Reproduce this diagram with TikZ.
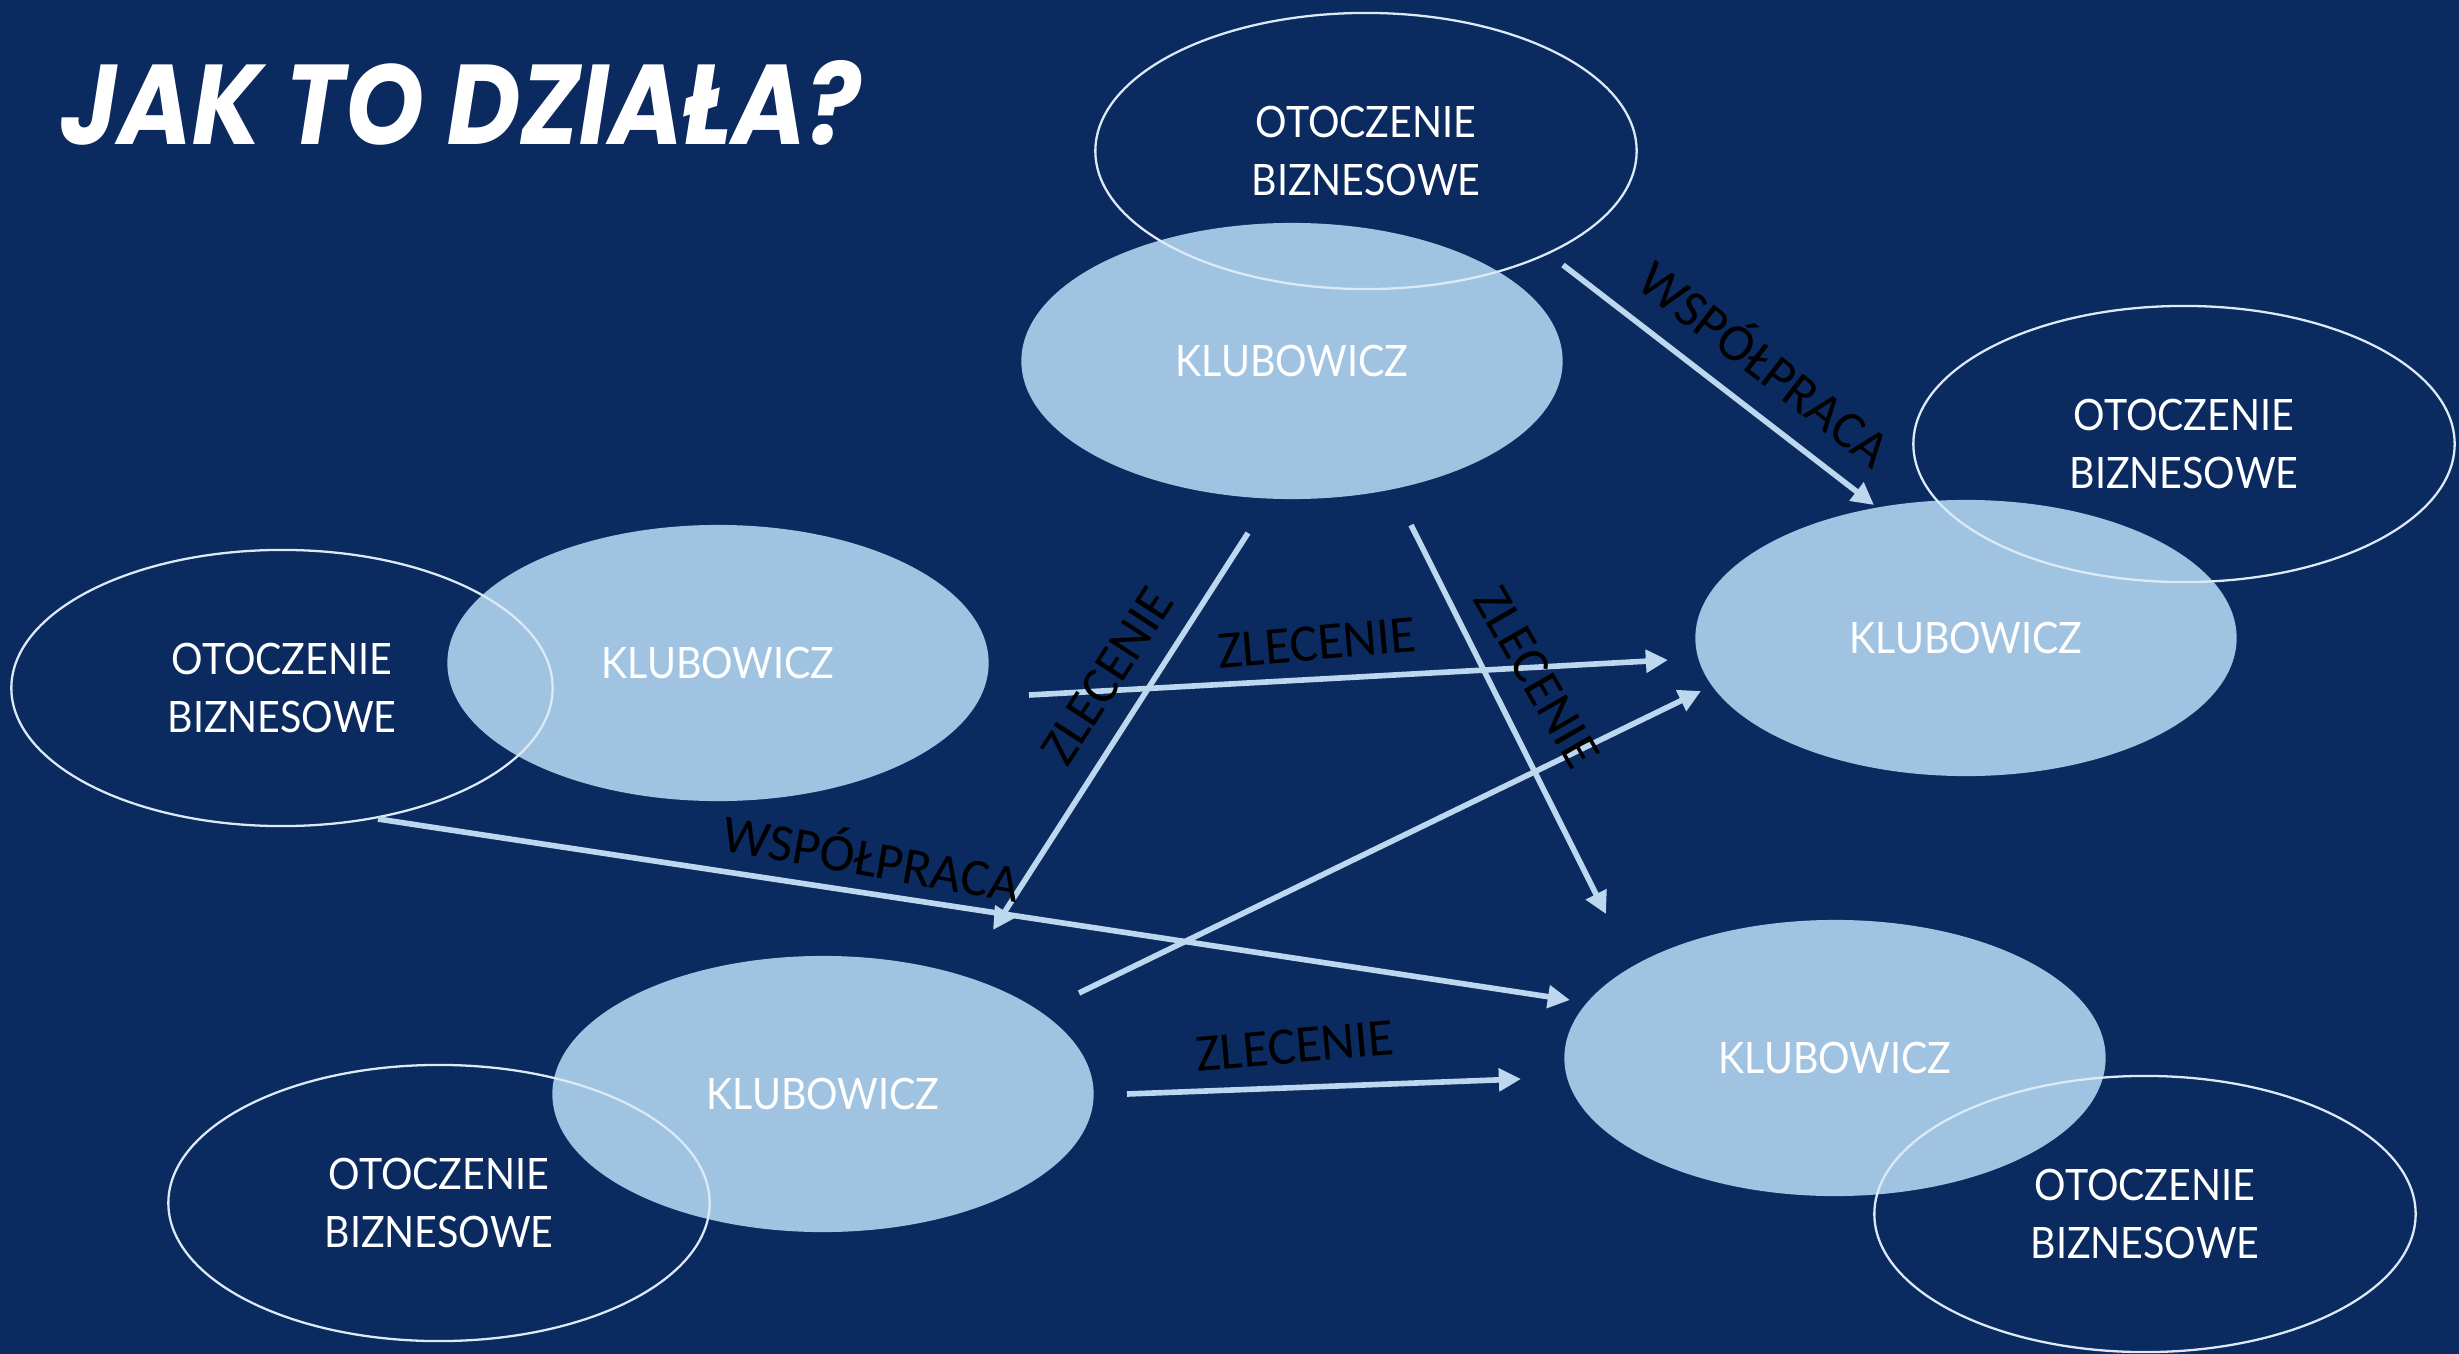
\documentclass[tikz,border=0pt]{standalone}
\usepackage{fontspec}
\usetikzlibrary{shapes.geometric,arrows.meta}
\newfontfamily\titlefont{Poppins}
\newfontfamily\gillfont[FakeStretch=0.91]{Lato}
\newfontfamily\labelfont{Carlito}
\definecolor{bg}{HTML}{0B2A60}
\definecolor{klub}{HTML}{A0C3E2}
\definecolor{arr}{HTML}{BDD7EE}
\definecolor{ring}{HTML}{DCE9F6}
\begin{document}
\begin{tikzpicture}[x=0.01cm,y=-0.01cm,
  klubowicz/.style={ellipse, fill=klub, minimum width=5.41cm, minimum height=2.76cm, inner sep=0pt, text=white, font=\gillfont\fontsize{12.3}{16.5}\selectfont},
  otoczenie/.style={ellipse, draw=ring, line width=0.65pt, minimum width=5.41cm, minimum height=2.76cm, inner sep=0pt, text=white, align=center, font=\gillfont\fontsize{12.3}{16.5}\selectfont},
  flow/.style={draw=arr, line width=1.6pt, -{Triangle[length=6.3pt,width=6.3pt]}},
  lbl/.style={font=\labelfont\fontsize{15}{18}\selectfont, text=black, inner sep=0pt}]
\useasboundingbox (0,0) rectangle (2459,1354);
\fill[bg] (0,0) rectangle (2459,1354);

\node[anchor=north west, inner sep=0pt, text=white] (title) at (60,60)
  {\resizebox{7.99cm}{0.84cm}{\titlefont\bfseries\itshape JAK TO DZIAŁA?}};

% member ellipses
\node[klubowicz] (k1) at (1292,361) {KLUBOWICZ};
\node[klubowicz] (k2) at (1966,638) {KLUBOWICZ};
\node[klubowicz] (k3) at (718,663) {KLUBOWICZ};
\node[klubowicz] (k4) at (823,1094) {KLUBOWICZ};
\node[klubowicz] (k5) at (1835,1058) {KLUBOWICZ};

% business surroundings
\node[otoczenie] (o1) at (1366,151) {OTOCZENIE\\BIZNESOWE};
\node[otoczenie] (o2) at (2184,444) {OTOCZENIE\\BIZNESOWE};
\node[otoczenie] (o3) at (282,688) {OTOCZENIE\\BIZNESOWE};
\node[otoczenie] (o4) at (439,1203) {OTOCZENIE\\BIZNESOWE};
\node[otoczenie] (o5) at (2145,1214) {OTOCZENIE\\BIZNESOWE};

% connector ends
\coordinate (a1s) at (1563,265); \coordinate (a1e) at (1874,505);
\coordinate (a2s) at (1248,533); \coordinate (a2e) at (993,930);
\coordinate (a3s) at (1411,525); \coordinate (a3e) at (1606,914);
\coordinate (a4s) at (1029,695); \coordinate (a4e) at (1668,660);
\coordinate (a5s) at (1079,993); \coordinate (a5e) at (1701,691);
\coordinate (a6s) at (378,819);  \coordinate (a6e) at (1570,1000);
\coordinate (a7s) at (1127,1094); \coordinate (a7e) at (1521,1079);

\draw[flow] (a1s) -- (a1e);
\draw[flow] (a2s) -- (a2e);
\draw[flow] (a3s) -- (a3e);
\draw[flow] (a4s) -- (a4e);
\draw[flow] (a5s) -- (a5e);
\draw[flow] (a6s) -- (a6e);
\draw[flow] (a7s) -- (a7e);

% labels
\node[lbl, rotate=-37.7] (l1) at (1767,361) {WSPÓŁPRACA};
\node[lbl, rotate=57] (l2) at (1107,676) {ZLECENIE};
\node[lbl, rotate=-60] (l3) at (1537,677) {ZLECENIE};
\node[lbl, rotate=5] (l4) at (1317,643) {ZLECENIE};
\node[lbl, rotate=-10] (l6) at (872,855) {WSPÓŁPRACA};
\node[lbl, rotate=5] (l7) at (1295,1046) {ZLECENIE};
\end{tikzpicture}
\end{document}
